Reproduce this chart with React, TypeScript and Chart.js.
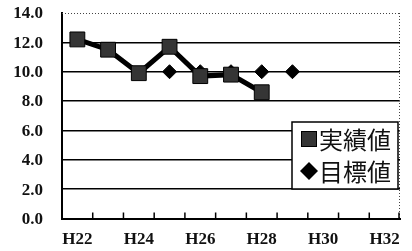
import React, { useEffect, useRef } from 'react';
import { Chart, registerables } from 'chart.js';

Chart.register(...registerables);

const categories = ['H22', 'H23', 'H24', 'H25', 'H26', 'H27', 'H28', 'H29', 'H30', 'H31', 'H32'];
const actualValues = [12.2, 11.5, 9.9, 11.7, 9.7, 9.8, 8.6, null, null, null, null];
const targetValues = [null, null, null, 10.0, 10.0, 10.0, 10.0, 10.0, null, null, null];
const seriesNames = ['実績値', '目標値'];
const yMin = 0;
const yMax = 14;
const yStep = 2;

const tickFont = { family: "'Liberation Serif', 'Times New Roman', serif", size: 17, weight: 'bold' as const };
const legendFont = "24px 'Noto Sans CJK JP', sans-serif";
const squareFill = '#353535';

export default function App() {
  const ref = useRef<HTMLCanvasElement>(null);

  useEffect(() => {
    if (!ref.current) return;

    const framePlugin = {
      id: 'frame',
      beforeDatasetsDraw(chart: any) {
        const { ctx, chartArea } = chart;
        const xs = chart.scales.x;
        ctx.save();
        ctx.strokeStyle = '#444';
        ctx.lineWidth = 1;
        ctx.setLineDash([1, 2]);
        ctx.beginPath();
        ctx.moveTo(chartArea.left, chartArea.top + 0.5);
        ctx.lineTo(chartArea.right, chartArea.top + 0.5);
        ctx.moveTo(chartArea.right - 0.5, chartArea.top);
        ctx.lineTo(chartArea.right - 0.5, chartArea.bottom);
        ctx.stroke();
        ctx.setLineDash([]);
        ctx.strokeStyle = '#000';
        ctx.lineWidth = 1.5;
        ctx.beginPath();
        for (let i = 1; i <= categories.length; i++) {
          const x = i < categories.length
            ? (xs.getPixelForValue(i - 1) + xs.getPixelForValue(i)) / 2
            : chartArea.right - 1;
          ctx.moveTo(x, chartArea.bottom);
          ctx.lineTo(x, chartArea.bottom - 6);
        }
        ctx.stroke();
        ctx.restore();
      },
    };

    const legendPlugin = {
      id: 'boxLegend',
      afterDraw(chart: any) {
        const { ctx, chartArea } = chart;
        const w = 106;
        const h = 67;
        const x0 = chartArea.right - w - 2;
        const y0 = chartArea.top + 109;
        ctx.save();
        ctx.fillStyle = '#fff';
        ctx.fillRect(x0, y0, w, h);
        ctx.strokeStyle = '#000';
        ctx.lineWidth = 1.5;
        ctx.strokeRect(x0, y0, w, h);
        const c1y = y0 + 17;
        const c2y = y0 + 49;
        const mx = x0 + 17;
        ctx.fillStyle = squareFill;
        ctx.fillRect(mx - 7.5, c1y - 7.5, 15, 15);
        ctx.strokeStyle = '#000';
        ctx.lineWidth = 1;
        ctx.strokeRect(mx - 7.5, c1y - 7.5, 15, 15);
        ctx.fillStyle = '#000';
        ctx.beginPath();
        ctx.moveTo(mx - 9, c2y);
        ctx.lineTo(mx, c2y - 9);
        ctx.lineTo(mx + 9, c2y);
        ctx.lineTo(mx, c2y + 9);
        ctx.closePath();
        ctx.fill();
        ctx.fillStyle = '#111';
        ctx.font = legendFont;
        ctx.textBaseline = 'middle';
        ctx.textAlign = 'left';
        ctx.fillText(seriesNames[0], x0 + 27, c1y + 1);
        ctx.fillText(seriesNames[1], x0 + 27, c2y + 1);
        ctx.restore();
      },
    };

    const chart = new Chart(ref.current, {
      type: 'line',
      data: {
        labels: categories,
        datasets: [
          {
            label: seriesNames[0],
            data: actualValues,
            borderColor: '#000',
            borderWidth: 5,
            pointStyle: 'rect',
            pointRadius: 10.5,
            pointBackgroundColor: squareFill,
            pointBorderColor: '#000',
            pointBorderWidth: 1,
            tension: 0,
          },
          {
            label: seriesNames[1],
            data: targetValues,
            showLine: false,
            pointStyle: 'rectRot',
            pointRadius: 7,
            pointBackgroundColor: '#000',
            pointBorderColor: '#000',
            pointBorderWidth: 1,
          },
        ],
      },
      options: {
        responsive: false,
        animation: false,
        devicePixelRatio: 1,
        layout: { padding: { top: 13, right: 12, left: 0, bottom: 0 } },
        plugins: {
          legend: { display: false },
          tooltip: { enabled: false },
        },
        scales: {
          x: {
            offset: true,
            grid: { display: false, drawOnChartArea: false, drawTicks: false },
            border: { display: true, color: '#000', width: 2 },
            ticks: {
              autoSkip: false,
              maxRotation: 0,
              padding: 11,
              color: '#111',
              font: tickFont,
              callback: (_v: any, i: number) => (i % 2 === 0 ? categories[i] : ''),
            },
            afterFit: (s: any) => {
              s.height = 32.5;
              s.paddingLeft = 0;
              s.paddingRight = 0;
            },
          },
          y: {
            min: yMin,
            max: yMax,
            grid: {
              color: (c: any) => (c.tick && c.tick.value === yMax ? 'rgba(0,0,0,0)' : '#000'),
              lineWidth: 1.5,
              drawTicks: false,
            },
            border: { display: true, color: '#000', width: 2 },
            ticks: {
              stepSize: yStep,
              padding: 19,
              labelOffset: 1,
              color: '#111',
              font: tickFont,
              callback: (v: any) => Number(v).toFixed(1),
            },
            afterFit: (s: any) => {
              s.width = 62;
              s.paddingTop = 0;
              s.paddingBottom = 0;
            },
          },
        },
      },
      plugins: [framePlugin, legendPlugin],
    });

    return () => chart.destroy();
  }, []);

  return (
    <div style={{ position: 'absolute', left: 0, top: 0, width: 412, height: 251, background: '#fff' }}>
      <canvas ref={ref} width={412} height={251} style={{ display: 'block' }} />
    </div>
  );
}
